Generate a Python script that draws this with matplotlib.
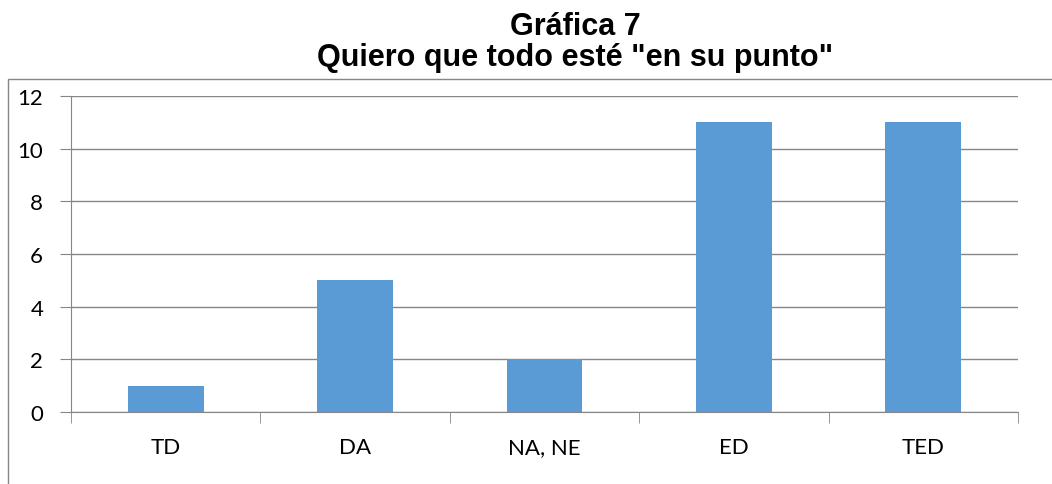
import numpy as np
import matplotlib.pyplot as plt
from matplotlib.patches import Rectangle

categorias = ['TD', 'DA', 'NA, NE', 'ED', 'TED']
valores = [1, 5, 2, 11, 11]
yticks = [0, 2, 4, 6, 8, 10, 12]

gris = '#868686'

fig = plt.figure(figsize=(10.52, 4.85), dpi=100)
# marco del grafico
fig.patches.append(Rectangle((8/1052, -0.1), 1.2, (485-80)/485 + 0.1,
                             transform=fig.transFigure, fill=False,
                             edgecolor=gris, lw=1, clip_on=False))
ax = fig.add_axes([71/1052, 72/485, 947/1052, 316/485])

x = np.arange(len(categorias))
ax.bar(x, valores, width=0.4, color='#5B9BD5', zorder=3)

ax.set_xlim(-0.5, len(categorias) - 0.5)
ax.set_ylim(0, 12)
ax.set_yticks(yticks)
ax.set_yticklabels([str(v) for v in yticks], fontsize=16, family='Lato')
ax.yaxis.grid(True, color=gris, lw=1, zorder=0)
ax.tick_params(axis='y', length=8, color=gris, pad=12)

ax.set_xticks(x)
ax.set_xticklabels(categorias, fontsize=16, family='Lato')
ax.set_xticks(np.arange(-0.5, len(categorias)), minor=True)
ax.tick_params(axis='x', which='major', length=0, pad=18)
ax.tick_params(axis='x', which='minor', length=8, color=gris)

for s in ['top', 'right']:
    ax.spines[s].set_visible(False)
for s in ['left', 'bottom']:
    ax.spines[s].set_color(gris)

fig.text(575/1052, 1 - 27/485, 'Gráfica 7', ha='center', va='center',
         fontsize=22, fontweight='bold', family='Liberation Sans')
fig.text(575/1052, 1 - 58/485, 'Quiero que todo esté "en su punto"', ha='center',
         va='center', fontsize=22, fontweight='bold', family='Liberation Sans')

fig.savefig('out.png', dpi=100)
